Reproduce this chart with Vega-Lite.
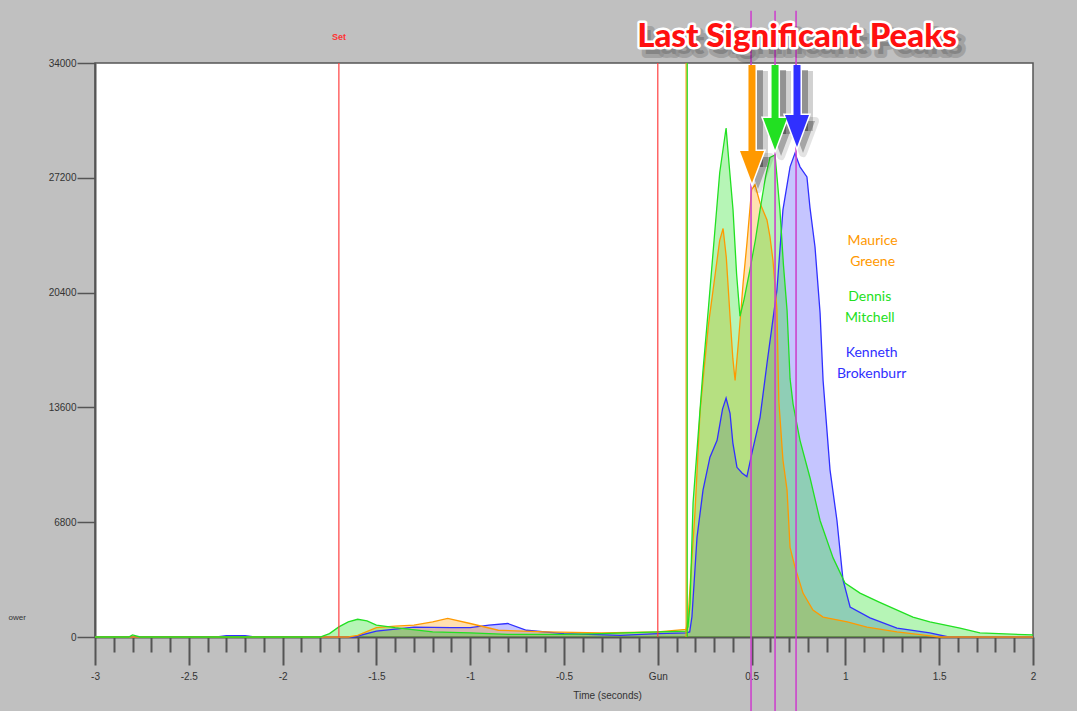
{
  "$schema": "https://vega.github.io/schema/vega-lite/v6.json",
  "autosize": {"type": "none"},
  "padding": {"left": 95, "right": 44, "top": 63, "bottom": 74},
  "width": 938,
  "height": 574,
  "background": "#c0c0c0",
  "config": {
    "view": {"fill": "white", "stroke": "#555555", "strokeWidth": 1.5},
    "axis": {"grid": false, "labelFont": "Liberation Sans", "titleFont": "Liberation Sans", "labelColor": "#333333", "titleColor": "#333333", "domainColor": "#555555", "domainWidth": 2, "tickColor": "#555555"}
  },
  "datasets": {
    "power": [
      {"runner": "Kenneth Brokenburr", "t": -3, "p": 0}, {"runner": "Kenneth Brokenburr", "t": -2.35, "p": 0}, {"runner": "Kenneth Brokenburr", "t": -2.3, "p": 80}, {"runner": "Kenneth Brokenburr", "t": -2.2, "p": 80}, {"runner": "Kenneth Brokenburr", "t": -2.15, "p": 0}, {"runner": "Kenneth Brokenburr", "t": -1.62, "p": 0}, {"runner": "Kenneth Brokenburr", "t": -1.5, "p": 350}, {"runner": "Kenneth Brokenburr", "t": -1.3, "p": 580}, {"runner": "Kenneth Brokenburr", "t": -1.1, "p": 550}, {"runner": "Kenneth Brokenburr", "t": -1.0, "p": 550}, {"runner": "Kenneth Brokenburr", "t": -0.9, "p": 700}, {"runner": "Kenneth Brokenburr", "t": -0.8, "p": 800}, {"runner": "Kenneth Brokenburr", "t": -0.7, "p": 400}, {"runner": "Kenneth Brokenburr", "t": -0.5, "p": 200}, {"runner": "Kenneth Brokenburr", "t": -0.2, "p": 100}, {"runner": "Kenneth Brokenburr", "t": 0, "p": 200}, {"runner": "Kenneth Brokenburr", "t": 0.15, "p": 250}, {"runner": "Kenneth Brokenburr", "t": 0.17, "p": 300}, {"runner": "Kenneth Brokenburr", "t": 0.182, "p": 1200}, {"runner": "Kenneth Brokenburr", "t": 0.209, "p": 5900}, {"runner": "Kenneth Brokenburr", "t": 0.241, "p": 8700}, {"runner": "Kenneth Brokenburr", "t": 0.278, "p": 10650}, {"runner": "Kenneth Brokenburr", "t": 0.316, "p": 11650}, {"runner": "Kenneth Brokenburr", "t": 0.345, "p": 13500}, {"runner": "Kenneth Brokenburr", "t": 0.364, "p": 14150}, {"runner": "Kenneth Brokenburr", "t": 0.385, "p": 13250}, {"runner": "Kenneth Brokenburr", "t": 0.4, "p": 11500}, {"runner": "Kenneth Brokenburr", "t": 0.422, "p": 10050}, {"runner": "Kenneth Brokenburr", "t": 0.45, "p": 9700}, {"runner": "Kenneth Brokenburr", "t": 0.475, "p": 9500}, {"runner": "Kenneth Brokenburr", "t": 0.502, "p": 10900}, {"runner": "Kenneth Brokenburr", "t": 0.545, "p": 13000}, {"runner": "Kenneth Brokenburr", "t": 0.582, "p": 16200}, {"runner": "Kenneth Brokenburr", "t": 0.61, "p": 18500}, {"runner": "Kenneth Brokenburr", "t": 0.635, "p": 20550}, {"runner": "Kenneth Brokenburr", "t": 0.667, "p": 25300}, {"runner": "Kenneth Brokenburr", "t": 0.705, "p": 27850}, {"runner": "Kenneth Brokenburr", "t": 0.731, "p": 28650}, {"runner": "Kenneth Brokenburr", "t": 0.758, "p": 27850}, {"runner": "Kenneth Brokenburr", "t": 0.795, "p": 27250}, {"runner": "Kenneth Brokenburr", "t": 0.811, "p": 25450}, {"runner": "Kenneth Brokenburr", "t": 0.838, "p": 23100}, {"runner": "Kenneth Brokenburr", "t": 0.865, "p": 19200}, {"runner": "Kenneth Brokenburr", "t": 0.881, "p": 15200}, {"runner": "Kenneth Brokenburr", "t": 0.918, "p": 9900}, {"runner": "Kenneth Brokenburr", "t": 0.955, "p": 6900}, {"runner": "Kenneth Brokenburr", "t": 0.987, "p": 3400}, {"runner": "Kenneth Brokenburr", "t": 1.025, "p": 1780}, {"runner": "Kenneth Brokenburr", "t": 1.131, "p": 1130}, {"runner": "Kenneth Brokenburr", "t": 1.275, "p": 530}, {"runner": "Kenneth Brokenburr", "t": 1.45, "p": 240}, {"runner": "Kenneth Brokenburr", "t": 1.55, "p": 0}, {"runner": "Kenneth Brokenburr", "t": 2.0, "p": 0},
      {"runner": "Maurice Greene", "t": -3, "p": 0}, {"runner": "Maurice Greene", "t": -1.65, "p": 0}, {"runner": "Maurice Greene", "t": -1.6, "p": 100}, {"runner": "Maurice Greene", "t": -1.5, "p": 550}, {"runner": "Maurice Greene", "t": -1.4, "p": 650}, {"runner": "Maurice Greene", "t": -1.3, "p": 700}, {"runner": "Maurice Greene", "t": -1.2, "p": 900}, {"runner": "Maurice Greene", "t": -1.12, "p": 1100}, {"runner": "Maurice Greene", "t": -1.0, "p": 800}, {"runner": "Maurice Greene", "t": -0.85, "p": 400}, {"runner": "Maurice Greene", "t": -0.6, "p": 300}, {"runner": "Maurice Greene", "t": -0.3, "p": 250}, {"runner": "Maurice Greene", "t": 0, "p": 300}, {"runner": "Maurice Greene", "t": 0.15, "p": 450}, {"runner": "Maurice Greene", "t": 0.161, "p": 1000}, {"runner": "Maurice Greene", "t": 0.175, "p": 3500}, {"runner": "Maurice Greene", "t": 0.198, "p": 7350}, {"runner": "Maurice Greene", "t": 0.225, "p": 13300}, {"runner": "Maurice Greene", "t": 0.241, "p": 15200}, {"runner": "Maurice Greene", "t": 0.27, "p": 18500}, {"runner": "Maurice Greene", "t": 0.3, "p": 21000}, {"runner": "Maurice Greene", "t": 0.33, "p": 23500}, {"runner": "Maurice Greene", "t": 0.348, "p": 24200}, {"runner": "Maurice Greene", "t": 0.365, "p": 22500}, {"runner": "Maurice Greene", "t": 0.385, "p": 19000}, {"runner": "Maurice Greene", "t": 0.4, "p": 16500}, {"runner": "Maurice Greene", "t": 0.412, "p": 15200}, {"runner": "Maurice Greene", "t": 0.43, "p": 17500}, {"runner": "Maurice Greene", "t": 0.455, "p": 21000}, {"runner": "Maurice Greene", "t": 0.475, "p": 23300}, {"runner": "Maurice Greene", "t": 0.5, "p": 26500}, {"runner": "Maurice Greene", "t": 0.518, "p": 26800}, {"runner": "Maurice Greene", "t": 0.545, "p": 25700}, {"runner": "Maurice Greene", "t": 0.582, "p": 24700}, {"runner": "Maurice Greene", "t": 0.598, "p": 23700}, {"runner": "Maurice Greene", "t": 0.614, "p": 22300}, {"runner": "Maurice Greene", "t": 0.635, "p": 19400}, {"runner": "Maurice Greene", "t": 0.645, "p": 14000}, {"runner": "Maurice Greene", "t": 0.667, "p": 10500}, {"runner": "Maurice Greene", "t": 0.689, "p": 8700}, {"runner": "Maurice Greene", "t": 0.705, "p": 5300}, {"runner": "Maurice Greene", "t": 0.731, "p": 4150}, {"runner": "Maurice Greene", "t": 0.774, "p": 2600}, {"runner": "Maurice Greene", "t": 0.827, "p": 1600}, {"runner": "Maurice Greene", "t": 0.881, "p": 1180}, {"runner": "Maurice Greene", "t": 1.01, "p": 900}, {"runner": "Maurice Greene", "t": 1.115, "p": 590}, {"runner": "Maurice Greene", "t": 1.275, "p": 300}, {"runner": "Maurice Greene", "t": 1.41, "p": 120}, {"runner": "Maurice Greene", "t": 1.5, "p": 0}, {"runner": "Maurice Greene", "t": 2.0, "p": 0},
      {"runner": "Dennis Mitchell", "t": -3, "p": 0}, {"runner": "Dennis Mitchell", "t": -2.82, "p": 0}, {"runner": "Dennis Mitchell", "t": -2.8, "p": 120}, {"runner": "Dennis Mitchell", "t": -2.76, "p": 0}, {"runner": "Dennis Mitchell", "t": -1.8, "p": 0}, {"runner": "Dennis Mitchell", "t": -1.75, "p": 200}, {"runner": "Dennis Mitchell", "t": -1.7, "p": 600}, {"runner": "Dennis Mitchell", "t": -1.65, "p": 900}, {"runner": "Dennis Mitchell", "t": -1.6, "p": 1050}, {"runner": "Dennis Mitchell", "t": -1.55, "p": 950}, {"runner": "Dennis Mitchell", "t": -1.5, "p": 700}, {"runner": "Dennis Mitchell", "t": -1.4, "p": 550}, {"runner": "Dennis Mitchell", "t": -1.2, "p": 300}, {"runner": "Dennis Mitchell", "t": -1.0, "p": 250}, {"runner": "Dennis Mitchell", "t": -0.8, "p": 150}, {"runner": "Dennis Mitchell", "t": -0.5, "p": 150}, {"runner": "Dennis Mitchell", "t": -0.3, "p": 200}, {"runner": "Dennis Mitchell", "t": 0, "p": 300}, {"runner": "Dennis Mitchell", "t": 0.15, "p": 350}, {"runner": "Dennis Mitchell", "t": 0.161, "p": 600}, {"runner": "Dennis Mitchell", "t": 0.172, "p": 2000}, {"runner": "Dennis Mitchell", "t": 0.188, "p": 7950}, {"runner": "Dennis Mitchell", "t": 0.241, "p": 15800}, {"runner": "Dennis Mitchell", "t": 0.27, "p": 19500}, {"runner": "Dennis Mitchell", "t": 0.3, "p": 23500}, {"runner": "Dennis Mitchell", "t": 0.33, "p": 27500}, {"runner": "Dennis Mitchell", "t": 0.364, "p": 30150}, {"runner": "Dennis Mitchell", "t": 0.38, "p": 28000}, {"runner": "Dennis Mitchell", "t": 0.401, "p": 25300}, {"runner": "Dennis Mitchell", "t": 0.42, "p": 21500}, {"runner": "Dennis Mitchell", "t": 0.438, "p": 19000}, {"runner": "Dennis Mitchell", "t": 0.46, "p": 20000}, {"runner": "Dennis Mitchell", "t": 0.491, "p": 21750}, {"runner": "Dennis Mitchell", "t": 0.52, "p": 23500}, {"runner": "Dennis Mitchell", "t": 0.545, "p": 25300}, {"runner": "Dennis Mitchell", "t": 0.575, "p": 27300}, {"runner": "Dennis Mitchell", "t": 0.598, "p": 28400}, {"runner": "Dennis Mitchell", "t": 0.625, "p": 28550}, {"runner": "Dennis Mitchell", "t": 0.651, "p": 25300}, {"runner": "Dennis Mitchell", "t": 0.67, "p": 22000}, {"runner": "Dennis Mitchell", "t": 0.689, "p": 19350}, {"runner": "Dennis Mitchell", "t": 0.705, "p": 15300}, {"runner": "Dennis Mitchell", "t": 0.721, "p": 13800}, {"runner": "Dennis Mitchell", "t": 0.758, "p": 11650}, {"runner": "Dennis Mitchell", "t": 0.811, "p": 9450}, {"runner": "Dennis Mitchell", "t": 0.865, "p": 6900}, {"runner": "Dennis Mitchell", "t": 0.934, "p": 4700}, {"runner": "Dennis Mitchell", "t": 0.998, "p": 3200}, {"runner": "Dennis Mitchell", "t": 1.078, "p": 2600}, {"runner": "Dennis Mitchell", "t": 1.18, "p": 2070}, {"runner": "Dennis Mitchell", "t": 1.36, "p": 1180}, {"runner": "Dennis Mitchell", "t": 1.45, "p": 900}, {"runner": "Dennis Mitchell", "t": 1.611, "p": 530}, {"runner": "Dennis Mitchell", "t": 1.717, "p": 240}, {"runner": "Dennis Mitchell", "t": 2.0, "p": 120}
    ],
    "events": [
      {"event": "Set", "t": -1.7},
      {"event": "Gun", "t": 0},
      {"event": "Greene start", "t": 0.151},
      {"event": "Mitchell start", "t": 0.157}
    ],
    "peaks": [
      {"runner": "Maurice Greene", "t": 0.497, "top": 37100, "bottom": -4500, "atop": 33880, "head": 27838, "tx": 0.502},
      {"runner": "Dennis Mitchell", "t": 0.625, "top": 37100, "bottom": -4500, "atop": 33880, "head": 29792, "tx": 0.625},
      {"runner": "Kenneth Brokenburr", "t": 0.737, "top": 37100, "bottom": -4500, "atop": 33880, "head": 29970, "tx": 0.742}
    ],
    "labels": [
      {"runner": "Maurice Greene", "text": "Maurice\nGreene", "t": 1.145, "p": 23455},
      {"runner": "Dennis Mitchell", "text": "Dennis\nMitchell", "t": 1.13, "p": 20138},
      {"runner": "Kenneth Brokenburr", "text": "Kenneth\nBrokenburr", "t": 1.14, "p": 16821}
    ],
    "notes": [
      {"text": "Set", "t": -1.7, "p": 35540},
      {"text": "Last Significant Peaks", "t": 0.742, "p": 35540}
    ]
  },
  "layer": [
    {
      "data": {"name": "power"},
      "mark": {"type": "area", "interpolate": "linear"},
      "encoding": {
        "x": {"field": "t", "type": "quantitative", "scale": {"domain": [-3, 2], "nice": false, "zero": false},
          "axis": {
            "title": "Time (seconds)", "titleFontSize": 10, "titleFontWeight": "normal", "titleX": 512, "titleY": 58, "titleAlign": "center", "titleBaseline": "middle",
            "tickCount": 100,
            "values": [-3, -2.9, -2.8, -2.7, -2.6, -2.5, -2.4, -2.3, -2.2, -2.1, -2, -1.9, -1.8, -1.7, -1.6, -1.5, -1.4, -1.3, -1.2, -1.1, -1, -0.9, -0.8, -0.7, -0.6, -0.5, -0.4, -0.3, -0.2, -0.1, 0, 0.1, 0.2, 0.3, 0.4, 0.5, 0.6, 0.7, 0.8, 0.9, 1, 1.1, 1.2, 1.3, 1.4, 1.5, 1.6, 1.7, 1.8, 1.9, 2],
            "labelExpr": "abs(datum.value*2 - round(datum.value*2)) < 0.001 ? (abs(datum.value) < 0.001 ? 'Gun' : '' + datum.value) : ''",
            "labelOverlap": false, "labelFlush": false, "labelBound": false, "labelFontSize": 10, "labelPadding": 6,
            "tickWidth": 2,
            "tickSize": {"condition": {"test": "abs(datum.value*2 - round(datum.value*2)) < 0.001", "value": 28}, "value": 15}
          }},
        "y": {"field": "p", "type": "quantitative", "stack": null, "scale": {"domain": [0, 34000], "nice": false},
          "axis": {"values": [0, 6800, 13600, 20400, 27200, 34000], "format": "d", "tickSize": 18, "tickWidth": 1.5, "labelPadding": 1, "labelFontSize": 10,
            "title": "ower", "titleAngle": 0, "titleFontSize": 8, "titleFontWeight": "normal", "titleX": -87, "titleY": 554, "titleAlign": "left", "titleBaseline": "middle"}},
        "color": {"field": "runner", "type": "nominal", "legend": null,
          "scale": {"domain": ["Kenneth Brokenburr", "Maurice Greene", "Dennis Mitchell"], "range": ["#3030ff", "#ff9900", "#22e022"]}},
        "fillOpacity": {"field": "runner", "type": "nominal", "legend": null,
          "scale": {"domain": ["Kenneth Brokenburr", "Maurice Greene", "Dennis Mitchell"], "range": [0.28, 0.33, 0.25]}}
      }
    },
    {
      "data": {"name": "power"},
      "mark": {"type": "line", "strokeWidth": 1.3},
      "encoding": {
        "x": {"field": "t", "type": "quantitative"},
        "y": {"field": "p", "type": "quantitative"},
        "color": {"field": "runner", "type": "nominal", "legend": null}
      }
    },
    {
      "data": {"name": "events"},
      "transform": [{"filter": "datum.event == 'Set' || datum.event == 'Gun'"}],
      "mark": {"type": "rule", "color": "#ff4040", "strokeWidth": 1.2},
      "encoding": {"x": {"field": "t", "type": "quantitative"}}
    },
    {
      "data": {"name": "events"},
      "transform": [{"filter": "datum.event == 'Greene start'"}],
      "mark": {"type": "rule", "color": "#ff9900", "strokeWidth": 1.2},
      "encoding": {"x": {"field": "t", "type": "quantitative"}}
    },
    {
      "data": {"name": "events"},
      "transform": [{"filter": "datum.event == 'Mitchell start'"}],
      "mark": {"type": "rule", "color": "#22dd22", "strokeWidth": 1.2},
      "encoding": {"x": {"field": "t", "type": "quantitative"}}
    },
    {
      "data": {"name": "peaks"},
      "mark": {"type": "rule", "color": "#cc44cc", "strokeWidth": 1.6},
      "encoding": {
        "x": {"field": "t", "type": "quantitative"},
        "y": {"field": "top", "type": "quantitative"},
        "y2": {"field": "bottom"}
      }
    },
    {
      "data": {"name": "peaks"},
      "mark": {"type": "rule", "color": "#000000", "opacity": 0.18, "strokeWidth": 18, "xOffset": 7, "yOffset": 6},
      "encoding": {
        "x": {"field": "tx", "type": "quantitative"},
        "y": {"field": "atop", "type": "quantitative"},
        "y2": {"field": "head"}
      }
    },
    {
      "data": {"name": "peaks"},
      "mark": {"type": "rule", "color": "#000000", "opacity": 0.3, "strokeWidth": 10, "xOffset": 6, "yOffset": 5},
      "encoding": {
        "x": {"field": "tx", "type": "quantitative"},
        "y": {"field": "atop", "type": "quantitative"},
        "y2": {"field": "head"}
      }
    },
    {
      "data": {"name": "peaks"},
      "mark": {"type": "point", "shape": "M-0.75,-1L0.75,-1L0,1Z", "size": 1024, "filled": true, "color": "#000000", "opacity": 0.35, "strokeWidth": 8, "stroke": "#000000", "strokeOpacity": 0.3, "strokeJoin": "round", "xOffset": 6, "yOffset": 6},
      "encoding": {
        "x": {"field": "tx", "type": "quantitative"},
        "y": {"field": "head", "type": "quantitative"}
      }
    },
    {
      "data": {"name": "peaks"},
      "mark": {"type": "rule", "color": "#ffffff", "strokeWidth": 10},
      "encoding": {
        "x": {"field": "tx", "type": "quantitative"},
        "y": {"field": "atop", "type": "quantitative"},
        "y2": {"field": "head"}
      }
    },
    {
      "data": {"name": "peaks"},
      "mark": {"type": "point", "shape": "M-0.75,-1L0.75,-1L0,1Z", "size": 1024, "filled": true, "fill": "#ffffff", "stroke": "#ffffff", "strokeWidth": 3, "opacity": 1},
      "encoding": {
        "x": {"field": "tx", "type": "quantitative"},
        "y": {"field": "head", "type": "quantitative"}
      }
    },
    {
      "data": {"name": "peaks"},
      "mark": {"type": "rule", "strokeWidth": 7},
      "encoding": {
        "x": {"field": "tx", "type": "quantitative"},
        "y": {"field": "atop", "type": "quantitative"},
        "y2": {"field": "head"},
        "color": {"field": "runner", "type": "nominal", "legend": null}
      }
    },
    {
      "data": {"name": "peaks"},
      "mark": {"type": "point", "shape": "M-0.75,-1L0.75,-1L0,1Z", "size": 1024, "filled": true, "opacity": 1},
      "encoding": {
        "x": {"field": "tx", "type": "quantitative"},
        "y": {"field": "head", "type": "quantitative"},
        "color": {"field": "runner", "type": "nominal", "legend": null}
      }
    },
    {
      "data": {"name": "labels"},
      "mark": {"type": "text", "font": "Lato", "fontSize": 14, "lineBreak": "\n", "lineHeight": 21, "align": "center", "baseline": "middle"},
      "encoding": {
        "x": {"field": "t", "type": "quantitative"},
        "y": {"field": "p", "type": "quantitative"},
        "text": {"field": "text"},
        "color": {"field": "runner", "type": "nominal", "legend": null}
      }
    },
    {
      "data": {"name": "notes"},
      "transform": [{"filter": "datum.text == 'Set'"}],
      "mark": {"type": "text", "font": "Liberation Sans", "fontSize": 9, "fontWeight": "bold", "color": "#ff3333", "align": "center", "baseline": "middle"},
      "encoding": {
        "x": {"field": "t", "type": "quantitative"},
        "y": {"field": "p", "type": "quantitative"},
        "text": {"field": "text"}
      }
    },
    {
      "data": {"name": "notes"},
      "transform": [{"filter": "datum.text != 'Set'"}],
      "mark": {"type": "text", "font": "Lato", "fontSize": 33, "fontWeight": 900, "color": "#000000", "opacity": 0.3, "stroke": "#000000", "strokeWidth": 8, "strokeOpacity": 0.5, "strokeJoin": "round", "dx": 6, "dy": 7, "align": "center", "baseline": "middle"},
      "encoding": {
        "x": {"field": "t", "type": "quantitative"},
        "y": {"field": "p", "type": "quantitative"},
        "text": {"field": "text"}
      }
    },
    {
      "data": {"name": "notes"},
      "transform": [{"filter": "datum.text != 'Set'"}],
      "mark": {"type": "text", "font": "Lato", "fontSize": 33, "fontWeight": 900, "color": "#ffffff", "stroke": "#ffffff", "strokeWidth": 5, "strokeJoin": "round", "align": "center", "baseline": "middle"},
      "encoding": {
        "x": {"field": "t", "type": "quantitative"},
        "y": {"field": "p", "type": "quantitative"},
        "text": {"field": "text"}
      }
    },
    {
      "data": {"name": "notes"},
      "transform": [{"filter": "datum.text != 'Set'"}],
      "mark": {"type": "text", "font": "Lato", "fontSize": 33, "fontWeight": 900, "color": "#ff1010", "align": "center", "baseline": "middle"},
      "encoding": {
        "x": {"field": "t", "type": "quantitative"},
        "y": {"field": "p", "type": "quantitative"},
        "text": {"field": "text"}
      }
    }
  ]
}
